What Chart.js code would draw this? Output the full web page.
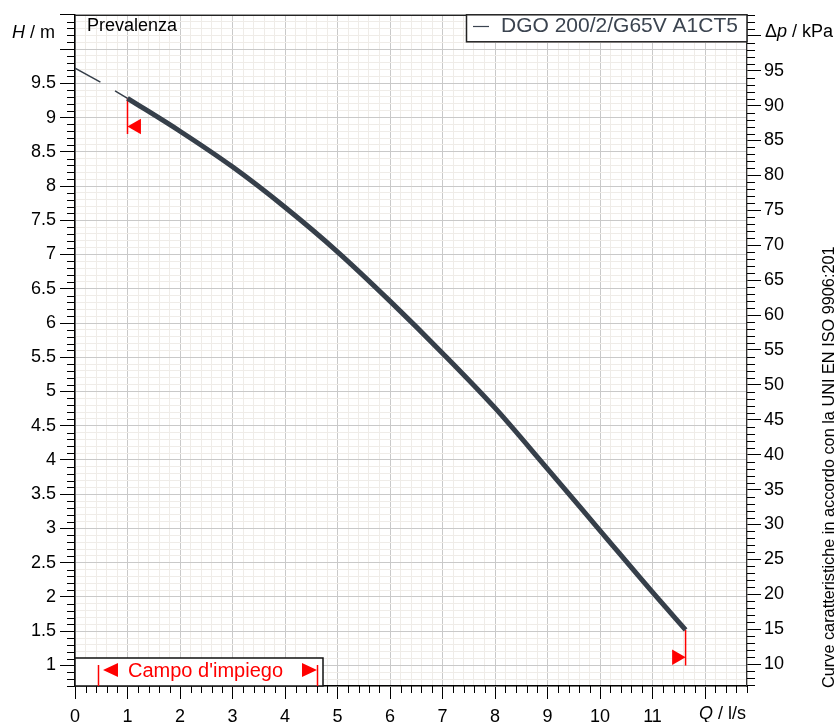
<!DOCTYPE html>
<html>
<head>
<meta charset="utf-8">
<style>
  html, body { margin: 0; padding: 0; background: #fff; }
  #wrap { width: 838px; height: 722px; }
</style>
</head>
<body>
<div id="wrap"><canvas id="chart" width="838" height="722"></canvas></div>
<script src="https://cdn.jsdelivr.net/npm/chart.js@4/dist/chart.umd.min.js"></script>
<script>
'use strict';

// curva DGO 200/2/G65V A1CT5: portata Q [l/s] -> prevalenza H [m]
const flow = [1.0, 2.0, 3.0, 4.0, 5.0, 6.0, 7.0, 8.0, 9.0, 10.0, 11.0, 11.63];
const head = [9.28, 8.80, 8.28, 7.69, 7.04, 6.32, 5.56, 4.76, 3.87, 2.97, 2.07, 1.52];

// tratto sottile prima del campo d'impiego
const leadFlow = [0, 0.5, 1.0];
const leadHead = [9.72, 9.51, 9.28];

// limiti campo d'impiego: linea rossa verticale + triangolo
const limitFlow   = [1.0, 11.63];
const limitTop    = [9.28, 1.52];
const limitBottom = [8.76, 1.00];
const arrowFlow   = [1.17, 11.46];
const arrowHead   = [8.87, 1.12];
const arrowRot    = [-90, 90];

// etichette assi
const qLabels = ['0', '1', '2', '3', '4', '5', '6', '7', '8', '9', '10', '11'];
const hLabels = ['1', '1.5', '2', '2.5', '3', '3.5', '4', '4.5', '5', '5.5', '6', '6.5', '7', '7.5', '8', '8.5', '9', '9.5'];
const pLabels = ['10', '15', '20', '25', '30', '35', '40', '45', '50', '55', '60', '65', '70', '75', '80', '85', '90', '95'];

const Q_MIN = 0, Q_MAX = 12.8;
const H_MIN = 0.7, H_MAX = 10.5;
const KPA_PER_M = 9.81;

const FONT = "'Liberation Sans', Arial, sans-serif";
const CURVE = '#363f4a';
const RED = '#ff0000';
const GRID_MAJOR = '#c9c9c9';
const GRID_MINOR = '#efece8';

const isMajorQ = v => Math.abs(v - Math.round(v)) < 1e-6;
const isMajorH = v => Math.round(v * 10) % 5 === 0;
const isMajorP = v => Math.round(v) % 5 === 0;
const fmt1 = v => String(Math.round(v * 10) / 10);

const pts = (xs, ys) => xs.map((x, i) => ({ x, y: ys[i] }));

const datasets = [
  { data: pts(flow, head), borderColor: CURVE, borderWidth: 5, pointRadius: 0,
    cubicInterpolationMode: 'monotone', borderCapStyle: 'butt', order: 0 },
  { data: pts(leadFlow, leadHead), borderColor: CURVE, borderWidth: 1.5,
    borderDash: [29, 17], pointRadius: 0, order: 1 },
];
limitFlow.forEach((q, i) => {
  datasets.push({ data: [{ x: q, y: limitTop[i] }, { x: q, y: limitBottom[i] }],
    borderColor: RED, borderWidth: 1.5, pointRadius: 0, order: 2 });
  datasets.push({ data: [{ x: arrowFlow[i], y: arrowHead[i] }], showLine: false,
    pointStyle: 'triangle', pointRadius: 9, pointRotation: arrowRot[i],
    pointBackgroundColor: RED, pointBorderWidth: 0, order: 2 });
});

function drawMixed(ctx, parts, x, y, align) {
  // parts: [[testo, corsivo]]
  const widths = parts.map(([t, it]) => { ctx.font = (it ? 'italic ' : '') + '18px ' + FONT; return ctx.measureText(t).width; });
  let cx = align === 'right' ? x - widths.reduce((a, b) => a + b, 0) : x;
  parts.forEach(([t, it], i) => {
    ctx.font = (it ? 'italic ' : '') + '18px ' + FONT;
    ctx.fillText(t, cx, y);
    cx += widths[i];
  });
}

const decorations = {
  id: 'decorations',
  afterDraw(chart) {
    const { ctx, chartArea: a, scales } = chart;
    ctx.save();

    // bordo superiore
    ctx.strokeStyle = '#222';
    ctx.lineWidth = 1.3;
    ctx.beginPath();
    ctx.moveTo(a.left, a.top + 0.5);
    ctx.lineTo(a.right, a.top + 0.5);
    ctx.stroke();

    // tacche secondarie
    ctx.strokeStyle = '#000';
    ctx.lineWidth = 1;
    ctx.beginPath();
    scales.x.ticks.forEach(t => {
      if (isMajorQ(t.value)) return;
      const px = Math.round(scales.x.getPixelForValue(t.value)) + 0.5;
      ctx.moveTo(px, a.bottom); ctx.lineTo(px, a.bottom + 7);
    });
    scales.y.ticks.forEach(t => {
      if (isMajorH(t.value)) return;
      const py = Math.round(scales.y.getPixelForValue(t.value)) + 0.5;
      ctx.moveTo(a.left, py); ctx.lineTo(a.left - 8, py);
    });
    scales.p.ticks.forEach(t => {
      if (isMajorP(t.value)) return;
      const py = Math.round(scales.p.getPixelForValue(t.value)) + 0.5;
      ctx.moveTo(a.right, py); ctx.lineTo(a.right + 8, py);
    });
    ctx.stroke();

    // titoli assi
    ctx.fillStyle = '#000';
    ctx.textBaseline = 'alphabetic';
    ctx.textAlign = 'left';
    ctx.font = '18px ' + FONT;
    ctx.fillText('Prevalenza', a.left + 12, a.top + 16);
    drawMixed(ctx, [['H', true], [' / m', false]], 55, 38, 'right');
    drawMixed(ctx, [['\u0394', false], ['p', true], [' / kPa', false]], 765, 37, 'left');
    drawMixed(ctx, [['Q', true], [' / l/s', false]], 746, 719, 'right');

    // legenda curva
    ctx.fillStyle = '#fff';
    ctx.fillRect(466.5, a.top, a.right - 466.5, 27);
    ctx.strokeStyle = '#222';
    ctx.lineWidth = 1.5;
    ctx.strokeRect(466.5, a.top, a.right - 466.5, 27);
    ctx.strokeStyle = '#3b4450';
    ctx.lineWidth = 1.2;
    ctx.beginPath();
    ctx.moveTo(473, 26.5); ctx.lineTo(489, 26.5);
    ctx.stroke();
    ctx.fillStyle = '#3b4450';
    ctx.font = '21px ' + FONT;
    ctx.fillText('DGO 200/2/G65V A1CT5', 501, 32);

    // campo d'impiego
    const bx = a.left, by = 658, bw = 323 - a.left, bh = a.bottom - 658;
    ctx.fillStyle = '#fff';
    ctx.fillRect(bx, by, bw, bh);
    ctx.strokeStyle = '#111';
    ctx.lineWidth = 1.5;
    ctx.strokeRect(bx, by, bw, bh);
    ctx.strokeStyle = RED;
    ctx.fillStyle = RED;
    ctx.lineWidth = 1.5;
    ctx.beginPath();
    ctx.moveTo(98.5, 665); ctx.lineTo(98.5, 686);
    ctx.moveTo(317.5, 665); ctx.lineTo(317.5, 686);
    ctx.stroke();
    ctx.beginPath();
    ctx.moveTo(103, 670); ctx.lineTo(118, 663); ctx.lineTo(118, 677); ctx.closePath();
    ctx.moveTo(317, 670); ctx.lineTo(302, 663); ctx.lineTo(302, 677); ctx.closePath();
    ctx.fill();
    ctx.font = '20px ' + FONT;
    ctx.fillText("Campo d'impiego", 128, 677);

    // nota verticale
    ctx.fillStyle = '#000';
    ctx.font = '16.3px ' + FONT;
    ctx.translate(834, 688);
    ctx.rotate(-Math.PI / 2);
    ctx.fillText('Curve caratteristiche in accordo con la UNI EN ISO 9906:201', 0, 0);

    ctx.restore();
  }
};

const tickFont = { family: FONT, size: 18 };

new Chart(document.getElementById('chart'), {
  type: 'line',
  data: { datasets },
  plugins: [decorations],
  options: {
    responsive: false,
    animation: false,
    layout: { padding: { top: 14, left: 0, right: 0, bottom: 0 } },
    plugins: { legend: { display: false }, tooltip: { enabled: false } },
    scales: {
      x: {
        type: 'linear', position: 'bottom', min: Q_MIN, max: Q_MAX,
        afterFit: s => { s.height = 36; },
        border: { color: '#000', width: 1.5 },
        grid: {
          color: c => isMajorQ(c.tick.value) ? GRID_MAJOR : GRID_MINOR,
          tickColor: c => isMajorQ(c.tick.value) ? '#000' : 'rgba(0,0,0,0)',
          tickLength: 13, lineWidth: 1,
        },
        ticks: {
          stepSize: 0.2, autoSkip: false, maxRotation: 0, minRotation: 0, padding: 7,
          color: '#000', font: tickFont,
          callback: v => qLabels.includes(fmt1(v)) ? fmt1(v) : '',
        },
      },
      y: {
        type: 'linear', position: 'left', min: H_MIN, max: H_MAX,
        afterFit: s => { s.width = 75; },
        border: { color: '#000', width: 1.5 },
        grid: {
          color: c => isMajorH(c.tick.value) ? GRID_MAJOR : GRID_MINOR,
          tickColor: c => isMajorH(c.tick.value) ? '#000' : 'rgba(0,0,0,0)',
          tickLength: 15, lineWidth: 1,
        },
        ticks: {
          stepSize: 0.1, autoSkip: false, padding: 4,
          color: '#000', font: tickFont,
          callback: v => hLabels.includes(fmt1(v)) ? fmt1(v) : '',
        },
      },
      p: {
        type: 'linear', position: 'right', min: H_MIN * KPA_PER_M, max: H_MAX * KPA_PER_M,
        afterFit: s => { s.width = 91; },
        border: { color: '#333', width: 1.3 },
        grid: {
          drawOnChartArea: false,
          tickColor: c => isMajorP(c.tick.value) ? '#000' : 'rgba(0,0,0,0)',
          tickLength: 14, lineWidth: 1,
        },
        ticks: {
          stepSize: 1, includeBounds: false, autoSkip: false, padding: 3,
          color: '#000', font: tickFont,
          callback: v => pLabels.includes(String(Math.round(v))) ? String(Math.round(v)) : '',
        },
      },
    },
  },
});
</script>
</body>
</html>
